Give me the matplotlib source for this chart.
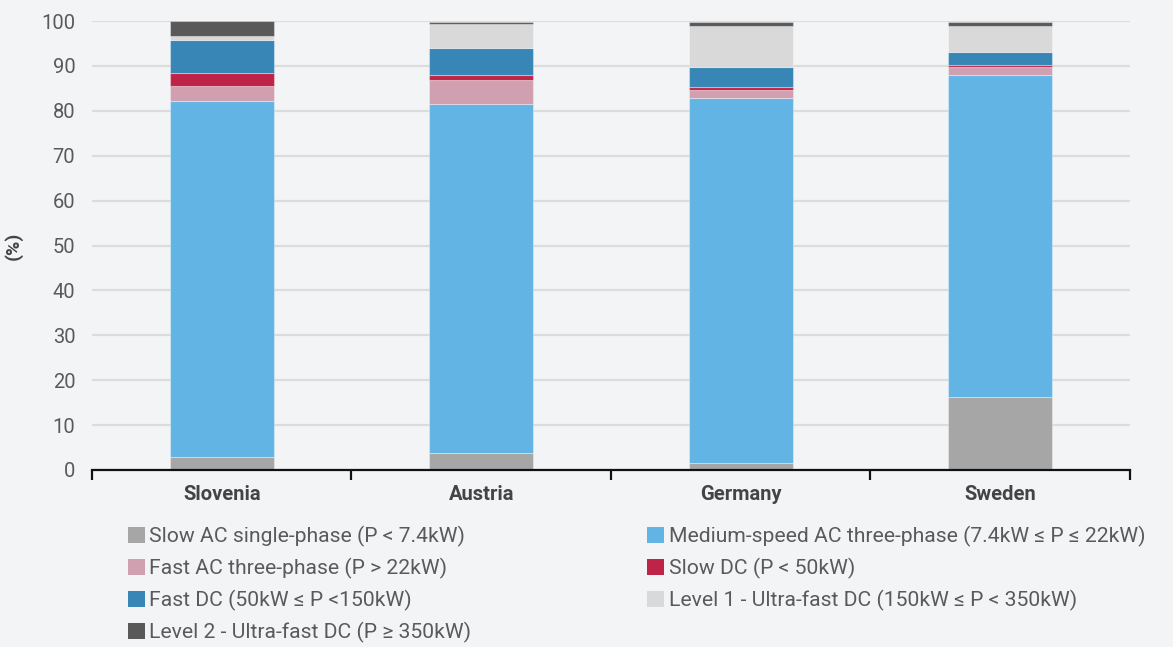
"""Stacked share of charging point types per country (percent)."""

import matplotlib

matplotlib.use("Agg")
import matplotlib.pyplot as plt
import numpy as np
from matplotlib.patches import Patch

# ── data ───────────────────────────────────────────────────────────────────────
countries = ["Slovenia", "Austria", "Germany", "Sweden"]
slow_ac = [2.9, 3.7, 1.6, 16.2]
medium_ac = [79.2, 77.9, 81.3, 71.8]
fast_ac = [3.4, 5.2, 1.7, 1.8]
slow_dc = [3.0, 1.2, 0.8, 0.4]
fast_dc = [7.3, 6.1, 4.4, 3.0]
ultra_l1 = [0.9, 5.2, 9.1, 5.7]
ultra_l2 = [3.2, 0.5, 0.9, 0.9]

series_labels = [
    "Slow AC single-phase (P < 7.4kW)",
    "Medium-speed AC three-phase (7.4kW ≤ P ≤ 22kW)",
    "Fast AC three-phase (P > 22kW)",
    "Slow DC (P < 50kW)",
    "Fast DC (50kW ≤ P <150kW)",
    "Level 1 - Ultra-fast DC (150kW ≤ P < 350kW)",
    "Level 2 - Ultra-fast DC (P ≥ 350kW)",
]
series_values = [slow_ac, medium_ac, fast_ac, slow_dc, fast_dc, ultra_l1, ultra_l2]

# ── style ──────────────────────────────────────────────────────────────────────
_COLORS = ["#a6a6a6", "#62b4e4", "#d0a0b0", "#bd2447", "#3786b5", "#d9d9d9", "#595959"]
_BG = "#f3f4f5"
_TEXT = "#5a5a5a"
_GRID = "#dcdcdc"

plt.rcParams["font.family"] = ["Roboto", "DejaVu Sans"]

fig = plt.figure(figsize=(11.73, 6.47), dpi=100)
fig.patch.set_facecolor(_BG)
ax = fig.add_axes([0.0784, 0.2736, 0.8849, 0.6939])
ax.set_facecolor("none")

x = np.arange(len(countries))
bottom = np.zeros(len(countries))
for vals, color, label in zip(series_values, _COLORS, series_labels):
    ax.bar(x, vals, width=0.4, bottom=bottom, color=color, label=label,
           edgecolor=(1, 1, 1, 0.35), linewidth=0.8, zorder=3)
    bottom += np.array(vals)

ax.set_xlim(-0.5, len(countries) - 0.5)
ax.set_ylim(0, 100)
ax.set_yticks(np.arange(0, 101, 10))
ax.grid(axis="y", color=_GRID, linewidth=1.6, zorder=0)
ax.set_axisbelow(True)

for side in ("top", "right", "left"):
    ax.spines[side].set_visible(False)
ax.spines["bottom"].set_color("#111111")
ax.spines["bottom"].set_linewidth(1.6)
ax.spines["bottom"].set_zorder(4)

ax.tick_params(axis="y", length=0, pad=12, labelsize=14.5, labelcolor=_TEXT)
ax.set_xticks(x)
ax.set_xticklabels(countries, fontsize=14.5, fontweight="bold", color="#444444")
ax.tick_params(axis="x", which="major", length=0, pad=11)
ax.set_xticks(np.arange(-0.5, len(countries)), minor=True)
ax.tick_params(axis="x", which="minor", length=7, width=1.6, color="#111111")

ax.set_ylabel("(%)", fontsize=14, fontweight="bold", color="#444444")
ax.yaxis.set_label_coords(-0.067, 0.5)

# ── legend in two columns, row-wise order ────────────────────────────────────
handles = [Patch(facecolor=c, edgecolor="none") for c in _COLORS]
left_idx = [0, 2, 4, 6]
right_idx = [1, 3, 5]
common = dict(frameon=False, fontsize=15.2, labelcolor=_TEXT, handlelength=0.8,
              handleheight=0.8, handletextpad=0.2, labelspacing=0.52,
              borderaxespad=0, borderpad=0, loc="upper left")
fig.legend([handles[i] for i in left_idx], [series_labels[i] for i in left_idx],
           bbox_to_anchor=(0.109, 0.187), **common)
fig.legend([handles[i] for i in right_idx], [series_labels[i] for i in right_idx],
           bbox_to_anchor=(0.552, 0.187), **common)

fig.savefig("out.png", dpi=100, facecolor=_BG)
